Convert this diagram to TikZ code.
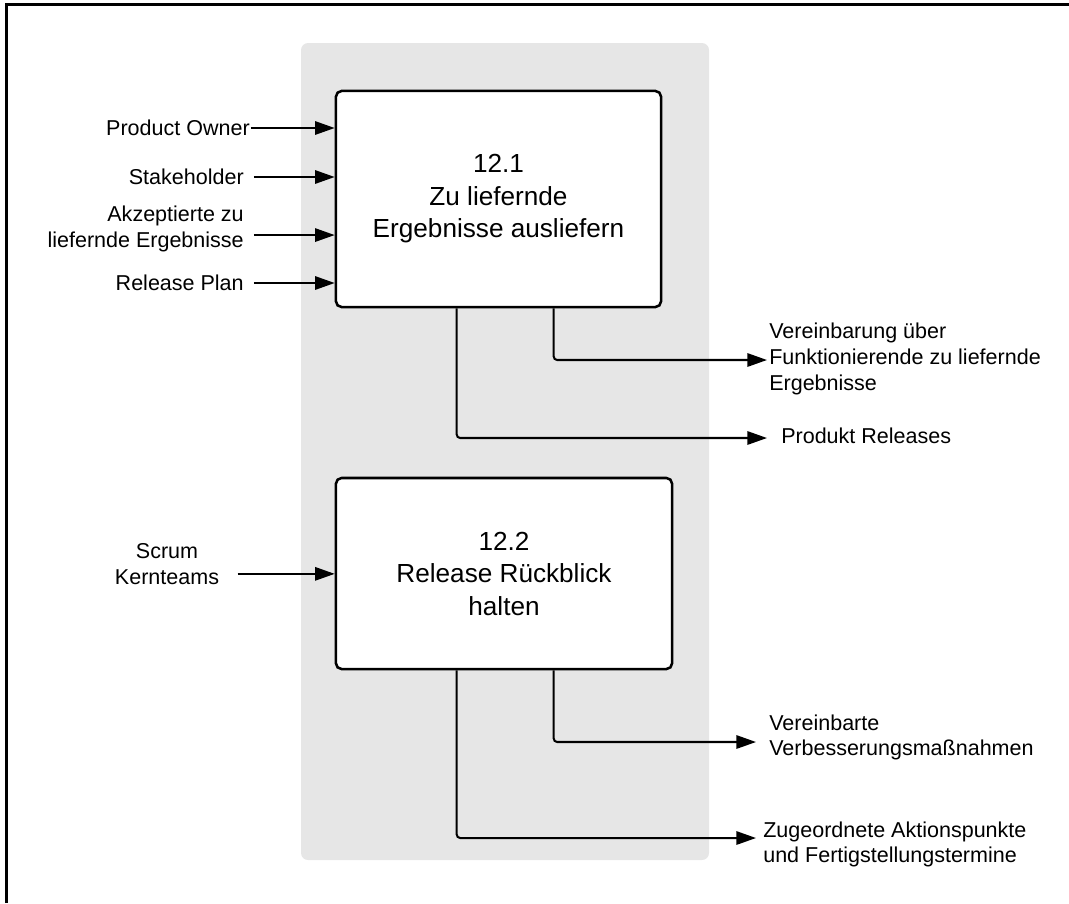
\documentclass[tikz,border=0pt]{standalone}
\usepackage{fontspec}
\setmainfont{Liberation Sans}
\usetikzlibrary{arrows.meta, calc, positioning}
\definecolor{panelgray}{HTML}{E6E6E6}

\begin{document}
\begin{tikzpicture}[x=0.025cm,y=-0.025cm,
    flow/.style={-{Triangle[length=14pt,width=9.5pt]},line width=1.45pt,rounded corners=2.5pt},
    procbox/.style={draw,line width=1.8pt,rounded corners=4pt,fill=white,align=center,
      inner sep=0pt,font=\fontsize{18.6}{23.1}\selectfont},
    llbl/.style={anchor=east,align=right,inner sep=0pt,font=\fontsize{15.3}{18.2}\selectfont},
    rlbl/.style={anchor=west,align=left,inner sep=0pt,font=\fontsize{15.3}{18.2}\selectfont}]
    \useasboundingbox (0,0) rectangle (1069,903);
    \draw[line width=2.1pt] (6.5,903) -- (6.5,4.5) -- (1069,4.5);
    \fill[panelgray,rounded corners=5pt] (301,43) rectangle (709,860);

    \node[procbox,minimum width=8.125cm,minimum height=5.4cm] (deliver) at (498.5,199)
      {12.1\\Zu liefernde\\Ergebnisse ausliefern};
    \node[procbox,minimum width=8.4cm,minimum height=4.775cm] (review) at (504,573.5)
      {12.2\\Release Rückblick\\halten};

    \node[llbl] (owner) at (250,128) {Product Owner};
    \node[llbl] (stake) at (244,177) {Stakeholder};
    \node[llbl] (accepted) at (244,229) {Akzeptierte zu\\liefernde Ergebnisse};
    \node[llbl] (plan) at (244,283) {Release Plan};
    \node[llbl,anchor=center,align=center] (teams) at (167,564) {Scrum\\Kernteams};

    \draw[flow] ([xshift=0.7pt]owner.east) -- (owner.east -| deliver.west);
    \draw[flow] ([xshift=7pt]stake.east) -- (stake.east -| deliver.west);
    \draw[flow] ([xshift=7pt,yshift=-4.3pt]accepted.east) -- ([yshift=-4.3pt]accepted.east -| deliver.west);
    \draw[flow] ([xshift=7pt]plan.east) -- (plan.east -| deliver.west);
    \draw[flow] ([xshift=13pt,yshift=-7pt]teams.east) -- ([yshift=-7pt]teams.east -| review.west);

    \coordinate (tipA) at (767,360);
    \coordinate (tipB) at (767,438);
    \coordinate (tipC) at (756,742);
    \coordinate (tipD) at (756,838);
    \node[rlbl] (agreed) at (769,359) {Vereinbarung über\\Funktionierende zu liefernde\\Ergebnisse};
    \node[rlbl] (releases) at (781,436) {Produkt Releases};
    \node[rlbl] (measures) at (769,737.5) {Vereinbarte\\Verbesserungsmaßnahmen};
    \node[rlbl] (actions) at (763,844.5) {Zugeordnete Aktionspunkte\\und Fertigstellungstermine};

    \draw[flow] ($(deliver.south west)+(219,0)$) |- (tipA);
    \draw[flow] ($(deliver.south west)+(122,0)$) |- (tipB);
    \draw[flow] ($(review.south west)+(219,0)$) |- (tipC);
    \draw[flow] ($(review.south west)+(122,0)$) |- (tipD);
\end{tikzpicture}
\end{document}
